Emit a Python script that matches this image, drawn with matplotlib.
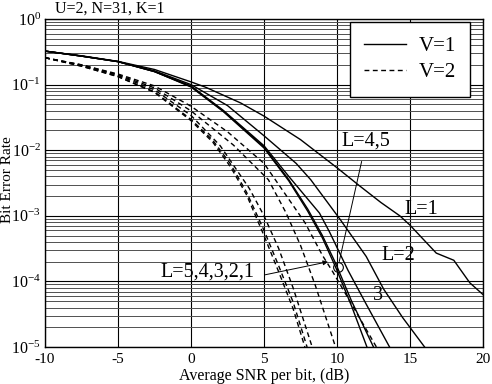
import matplotlib
matplotlib.use("Agg")
import matplotlib.pyplot as plt
from matplotlib.ticker import LogLocator, FixedLocator, LogFormatterMathtext, NullFormatter

plt.rcParams['font.family'] = ['Liberation Serif', 'DejaVu Serif']
plt.rcParams['mathtext.fontset'] = 'custom'
plt.rcParams['mathtext.rm'] = 'Liberation Serif'
plt.rcParams['mathtext.it'] = 'Liberation Serif:italic'
plt.rcParams['axes.unicode_minus'] = False

# ---------------- data ----------------
# V=1 (solid)
v1_L1_x = [-10, -7.5, -5, -2.5, 0, 1, 2, 3.4, 5, 7.5, 10, 11.6, 13, 14.3, 15, 16.8, 18, 19.1, 20]
v1_L1_y = [0.324, 0.275, 0.226, 0.170, 0.110, 0.0912, 0.0724, 0.0525, 0.0331, 0.0145,
           5.4e-3, 2.8e-3, 1.6e-3, 1.0e-3, 7.2e-4, 2.7e-4, 2.1e-4, 9.5e-5, 6.3e-5]
v1_L2_x = [-10, -7.5, -5, -2.5, 0, 2.5, 5, 7.2, 8.2, 10.2, 12.0, 13.2, 14.5, 16.0]
v1_L2_y = [0.324, 0.272, 0.224, 0.162, 0.100, 0.0479, 0.0166, 6.3e-3, 3.55e-3, 8.9e-4,
           2.4e-4, 7.6e-5, 2.8e-5, 1.0e-5]
v1_L3_x = [-10, -7.5, -5, -2.5, 0, 2.2, 5, 6.7, 8.8, 9.5, 10.75, 12.0, 13.6]
v1_L3_y = [0.324, 0.272, 0.224, 0.158, 0.0955, 0.0407, 0.0117, 3.98e-3, 1.1e-3, 5.6e-4,
           1.48e-4, 4.5e-5, 1.0e-5]
v1_L4_x = [-10, -7.5, -5, -2.5, 0, 2.2, 5, 6.7, 8.0, 9.0, 9.9, 11.0, 12.5]
v1_L4_y = [0.324, 0.272, 0.224, 0.158, 0.0933, 0.0398, 0.0112, 3.55e-3, 1.26e-3, 5.0e-4,
           1.9e-4, 5.0e-5, 1.0e-5]
v1_L5_x = [-10, -7.5, -5, -2.5, 0, 2.2, 5, 6.7, 8.0, 9.0, 9.9, 11.0, 12.05]
v1_L5_y = [0.324, 0.272, 0.224, 0.158, 0.0920, 0.0390, 0.0108, 3.4e-3, 1.17e-3, 4.6e-4,
           1.66e-4, 4.2e-5, 1.0e-5]

# V=2 (dashed)
v2_L5_x = [-10, -7.5, -5, -2.5, 0, 1.5, 2.7, 3.8, 5, 6, 7, 7.8]
v2_L5_y = [0.257, 0.191, 0.132, 0.0759, 0.0282, 0.0132, 5.6e-3, 2.1e-3, 5.0e-4, 1.41e-4, 3.8e-5, 1.0e-5]
v2_L4_x = [-10, -7.5, -5, -2.5, 0, 1.5, 2.7, 3.8, 5, 6, 7, 7.95]
v2_L4_y = [0.257, 0.191, 0.133, 0.0776, 0.0295, 0.0141, 6.2e-3, 2.3e-3, 6.0e-4, 1.74e-4, 4.8e-5, 1.0e-5]
v2_L3_x = [-10, -7.5, -5, -2.5, 0, 2, 4, 5, 6, 7, 8.3]
v2_L3_y = [0.257, 0.195, 0.138, 0.0832, 0.0339, 0.0117, 2.6e-3, 1.0e-3, 3.2e-4, 7.9e-5, 1.0e-5]
v2_L2_x = [-10, -7.5, -5, -2.5, 0, 2.9, 5.3, 6.5, 7.5, 8.5, 9.9]
v2_L2_y = [0.257, 0.200, 0.141, 0.0891, 0.0398, 0.0120, 3.55e-3, 1.12e-3, 3.55e-4, 8.9e-5, 1.0e-5]
v2_L1_x = [-10, -7.5, -5, -2.5, 0, 2.5, 5, 7.8, 9.0, 9.7, 11, 12.7]
v2_L1_y = [0.257, 0.200, 0.145, 0.0955, 0.0468, 0.0191, 6.3e-3, 7.9e-4, 2.5e-4, 1.41e-4, 4.5e-5, 1.0e-5]

x_ticks = [-10, -5, 0, 5, 10, 15, 20]
title_text = "U=2, N=31, K=1"
x_label = "Average SNR per bit, (dB)"
y_label = "Bit Error Rate"
legend_labels = ["V=1", "V=2"]

# ---------------- figure ----------------
fig = plt.figure(figsize=(4.92, 3.84), dpi=100)
ax = fig.add_axes([45/492, 1-347/384, 438/492, 328/384])

solid = dict(color='black', lw=1.0, ls='-')
dashed = dict(color='black', lw=1.0, ls=(0, (3.5, 2.5)))

ax.plot(v1_L1_x, v1_L1_y, **solid, label=legend_labels[0])
ax.plot(v1_L2_x, v1_L2_y, **solid)
ax.plot(v1_L3_x, v1_L3_y, **solid)
ax.plot(v1_L4_x, v1_L4_y, **solid)
ax.plot(v1_L5_x, v1_L5_y, **solid)

ax.plot(v2_L1_x, v2_L1_y, **dashed, label=legend_labels[1])
ax.plot(v2_L2_x, v2_L2_y, **dashed)
ax.plot(v2_L3_x, v2_L3_y, **dashed)
ax.plot(v2_L4_x, v2_L4_y, **dashed)
ax.plot(v2_L5_x, v2_L5_y, **dashed)

ax.set_yscale('log')
ax.set_xlim(-10, 20)
ax.set_ylim(1e-5, 1)
ax.xaxis.set_major_locator(FixedLocator(x_ticks))
ax.yaxis.set_major_locator(LogLocator(base=10, numticks=10))
ax.yaxis.set_minor_locator(LogLocator(base=10, subs=range(2, 10), numticks=10))
ax.yaxis.set_major_formatter(LogFormatterMathtext())
ax.yaxis.set_minor_formatter(NullFormatter())

ax.grid(True, which='major', axis='both', color='black', lw=0.8)
ax.grid(True, which='minor', axis='y', color='#505050', lw=0.7)
ax.set_axisbelow(True)

ax.tick_params(which='both', length=0)
ax.tick_params(axis='y', pad=3, labelsize=11.5)
ax.tick_params(axis='x', pad=4.5, labelsize=11)
for s in ax.spines.values():
    s.set_linewidth(1.0)

fig.text(264/492, 1-376.5/384, x_label, fontsize=11.5, ha='center', va='center')
fig.text(7.5/492, 1-180/384, y_label, rotation=90, fontsize=11, ha='center', va='center')
fig.text(55/492, 1-9/384, title_text, fontsize=11.5, ha='left', va='center')

leg = ax.legend(loc='upper left', bbox_to_anchor=(0.696, 0.991), fontsize=15,
                frameon=True, fancybox=False, edgecolor='black', framealpha=1,
                handlelength=2.0, handletextpad=0.6, borderpad=0.7, labelspacing=0.3,
                borderaxespad=0)
leg.get_frame().set_linewidth(1.0)

# annotations
ann_fs = 14.5
ax.plot([10.07], [1.66e-4], marker='o', ms=7, mfc='none', mec='black', mew=0.8)
ax.annotate("L=4,5", xy=(10.07, 1.66e-4), xytext=(12.0, 0.0138), fontsize=ann_fs,
            ha='center', va='center',
            arrowprops=dict(arrowstyle='-', lw=0.7, color='black', shrinkA=6, shrinkB=4))
ax.text(15.75, 1.23e-3, "L=1", fontsize=ann_fs, ha='center', va='center')
ax.text(14.18, 2.45e-4, "L=2", fontsize=ann_fs, ha='center', va='center')
ax.text(12.8, 6.2e-5, "3", fontsize=ann_fs, ha='center', va='center')
ax.text(-2.12, 1.38e-4, "L=5,4,3,2,1", fontsize=ann_fs, ha='left', va='center')
ax.annotate("", xy=(9.38, 1.99e-4), xytext=(5.07, 1.26e-4),
            arrowprops=dict(arrowstyle='-|>', lw=0.7, color='black', mutation_scale=7,
                            shrinkA=0, shrinkB=0))

fig.savefig("out.png", dpi=100)
